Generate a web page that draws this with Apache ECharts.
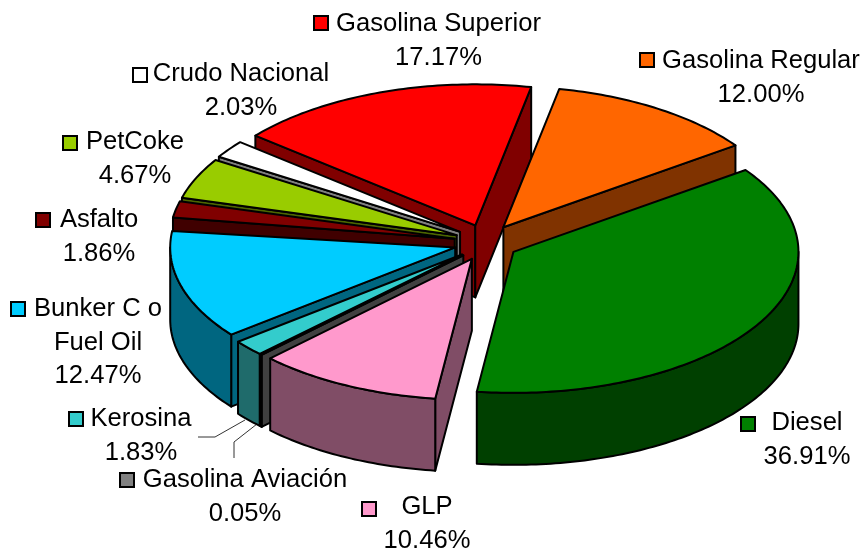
<!DOCTYPE html>
<html>
<head>
<meta charset="utf-8">
<style>html,body{margin:0;padding:0;background:#fff}#main{width:862px;height:549px}</style>
<script src="https://cdn.jsdelivr.net/npm/echarts@6/dist/echarts.min.js"></script>
</head>
<body>
<div id="main"></div>
<script>
// datos, en sentido horario desde Gasolina Superior
var categories = ['Gasolina Superior','Gasolina Regular','Diesel','GLP','Gasolina Aviación','Kerosina','Bunker C o Fuel Oil','Asfalto','PetCoke','Crudo Nacional'];
var percents = [17.17,12.00,36.91,10.46,0.05,1.83,12.47,1.86,4.67,2.03];
var topColors = ['#ff0000','#ff6600','#008000','#ff99cc','#808080','#33cccc','#00ccff','#800000','#99cc00','#ffffff'];
var sideColors = ['#800000','#803300','#004000','#804d66','#404040','#1f6b6b','#006680','#400000','#4c6600','#808080'];

var FONT = '25.6px "Liberation Sans", Arial, sans-serif';
var CX = 486, CY = 242.5, RX = 285, RY = 141, DEPTH = 72, EX = 32, EY = 18.2, START = -140.5;
var RAD = Math.PI / 180;

var total = percents.reduce(function (a, b) { return a + b; }, 0);

// angulos de cada rebanada a partir de los valores (porcentaje sobre 100)
// lo que falta para 100% queda como hueco antes de Asfalto
var slices = [], acc = START;
for (var i = 0; i < percents.length; i++) {
	if (categories[i] === 'Asfalto') acc += (100 - total) / 100 * 360;
	var sweep = percents[i] / 100 * 360;
	slices.push({ idx: i, t1: acc, t2: acc + sweep, mid: acc + sweep / 2 });
	acc += sweep;
}
// se pinta de atras hacia adelante
slices.sort(function (a, b) { return Math.sin(a.mid * RAD) - Math.sin(b.mid * RAD); });

function arc(c, t1, t2, dy) {
	var pts = [], n = Math.max(1, Math.ceil(Math.abs(t2 - t1)));
	for (var k = 0; k <= n; k++) {
		var t = (t1 + (t2 - t1) * k / n) * RAD;
		pts.push([c[0] + RX * Math.cos(t), c[1] + RY * Math.sin(t) + dy]);
	}
	return pts;
}

function face(points, fill) {
	return {
		type: 'polygon',
		shape: { points: points },
		style: { fill: fill, stroke: '#000', lineWidth: 2, lineJoin: 'round' }
	};
}

function renderSlice(params, api) {
	var s = slices[params.dataIndex];
	var t1 = api.value(1), t2 = api.value(2), mid = (t1 + t2) / 2;
	var c = [CX + EX * Math.cos(mid * RAD), CY + EY * Math.sin(mid * RAD)];
	var side = sideColors[s.idx], children = [];

	function radial(t) {
		var p = arc(c, t, t, 0)[0];
		return face([c, p, [p[0], p[1] + DEPTH], [c[0], c[1] + DEPTH]], side);
	}
	// caras radiales visibles
	if (Math.cos(t1 * RAD) < 0) children.push(radial(t1));
	if (Math.cos(t2 * RAD) > 0) children.push(radial(t2));
	// pared exterior, solo la parte del frente
	var a = Math.max(t1, 0), b = Math.min(t2, 180);
	if (b > a) {
		children.push(face(arc(c, a, b, 0).concat(arc(c, b, a, DEPTH)), side));
	}
	// tapa
	children.push(face([c].concat(arc(c, t1, t2, 0)), topColors[s.idx]));
	return { type: 'group', children: children };
}

// etiquetas: x,y del texto centrado y x,y del cuadro de color
var labelSpots = [
	{ lines: ['Gasolina Superior'], x: 438.5, y: 24, kx: 321, ky: 23 },
	{ lines: ['Gasolina Regular'], x: 761, y: 61, kx: 647, ky: 60 },
	{ lines: ['Diesel'], x: 807, y: 423, kx: 748, ky: 424 },
	{ lines: ['GLP'], x: 427, y: 507, kx: 369, ky: 509 },
	{ lines: ['Gasolina Aviación'], x: 245, y: 480, kx: 127, ky: 480 },
	{ lines: ['Kerosina'], x: 141, y: 419, kx: 76, ky: 419 },
	{ lines: ['Bunker C o', 'Fuel Oil'], x: 98, y: 309, kx: 18, ky: 309 },
	{ lines: ['Asfalto'], x: 99, y: 220, kx: 43, ky: 220 },
	{ lines: ['PetCoke'], x: 135, y: 142, kx: 70, ky: 143 },
	{ lines: ['Crudo Nacional'], x: 241, y: 74, kx: 140, ky: 75 }
];

var graphics = [];
labelSpots.forEach(function (l, i) {
	var rows = l.lines.concat([percents[i].toFixed(2) + '%']);
	rows.forEach(function (txt, r) {
		graphics.push({
			type: 'text', x: l.x, y: l.y + r * 33.5,
			style: { text: txt, font: FONT, fill: '#000', textAlign: 'center', textVerticalAlign: 'middle' }
		});
	});
	graphics.push({
		type: 'rect', shape: { x: l.kx - 7, y: l.ky - 7, width: 14, height: 14 },
		style: { fill: topColors[i], stroke: '#000', lineWidth: 2 }
	});
});
// lineas guia de Kerosina y Gasolina Aviacion
graphics.push({ type: 'polyline', shape: { points: [[198, 437], [215, 437], [245, 420]] }, style: { fill: null, stroke: '#333', lineWidth: 1 } });
graphics.push({ type: 'polyline', shape: { points: [[234, 458], [234, 442], [257, 424]] }, style: { fill: null, stroke: '#333', lineWidth: 1 } });

var myChart = echarts.init(document.getElementById('main'), null, { renderer: 'canvas' });
myChart.setOption({
	animation: false,
	backgroundColor: '#fff',
	graphic: graphics,
	series: [{
		type: 'custom',
		coordinateSystem: 'none',
		renderItem: renderSlice,
		data: slices.map(function (s) { return [percents[s.idx], s.t1, s.t2]; })
	}]
});
</script>
</body>
</html>
